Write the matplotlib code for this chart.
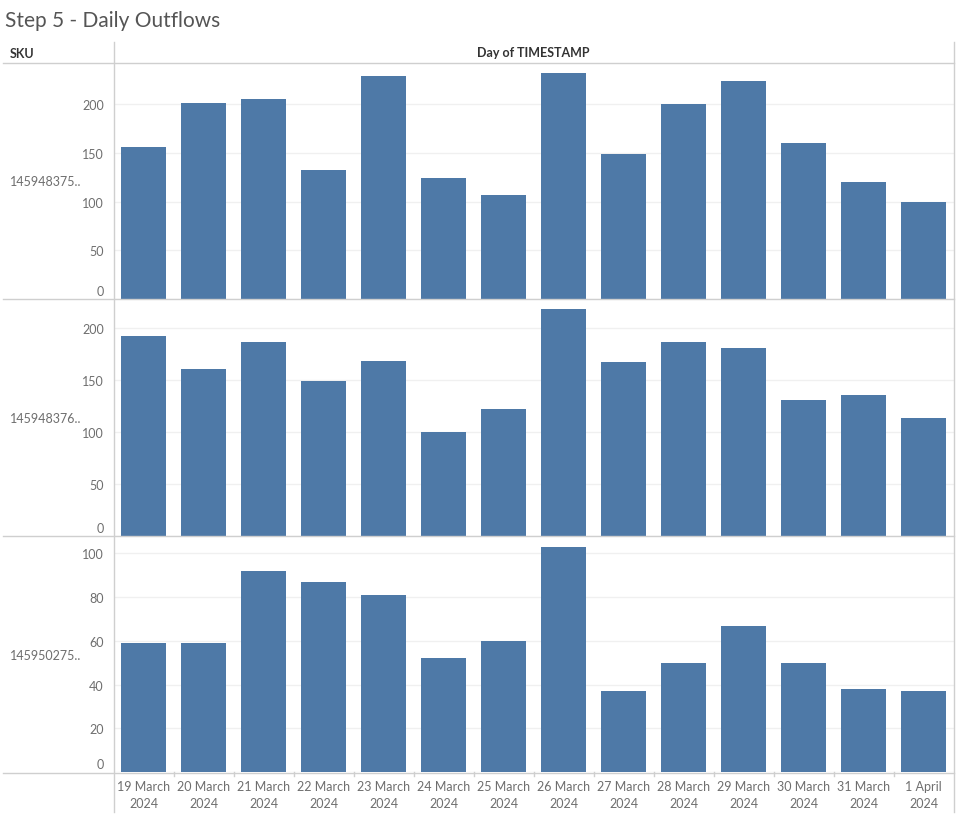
import matplotlib.pyplot as plt
from matplotlib.lines import Line2D
from matplotlib.transforms import ScaledTranslation

plt.rcParams['font.family'] = ['Lato', 'DejaVu Sans']

# data
days = ['19 March\n2024', '20 March\n2024', '21 March\n2024', '22 March\n2024',
        '23 March\n2024', '24 March\n2024', '25 March\n2024', '26 March\n2024',
        '27 March\n2024', '28 March\n2024', '29 March\n2024', '30 March\n2024',
        '31 March\n2024', '1 April\n2024']
sku_labels = ['145948375..', '145948376..', '145950275..']
sku1 = [156, 201, 205, 133, 229, 124, 107, 232, 149, 200, 224, 160, 120, 100]
sku2 = [192, 161, 187, 149, 168, 100, 122, 218, 167, 187, 181, 131, 136, 114]
sku3 = [59, 59, 92, 87, 81, 52, 60, 103, 37, 50, 67, 50, 38, 37]
series = [sku1, sku2, sku3]
y_max = [243.5, 228, 108]
y_ticks = [range(0, 201, 50), range(0, 201, 50), range(0, 101, 20)]

W, H = 961, 820
bar_col = '#4e79a7'
line_col = '#cfcfcf'
txt_col = '#6e6e6e'

fig = plt.figure(figsize=(W / 100, H / 100), dpi=100)

# panel edges in pixels (top, bottom)
rows = [(63, 300), (300, 537), (537, 773)]
x0, x1 = 113.5, 953.5

for i, (top, bot) in enumerate(rows):
    ax = fig.add_axes([x0 / W, 1 - bot / H, (x1 - x0) / W, (bot - top) / H])
    xs = range(len(days))
    ax.bar(xs, series[i], width=0.75, color=bar_col, zorder=3)
    ax.set_xlim(-0.5, len(days) - 0.5)
    ax.set_ylim(0, y_max[i])
    ax.set_yticks(list(y_ticks[i]))
    ax.grid(axis='y', color='#f0f0f0', linewidth=1, zorder=0)
    for s in ax.spines.values():
        s.set_visible(False)
    ax.tick_params(axis='y', length=0, pad=7, labelsize=9, labelcolor=txt_col)
    # bottom tick label sits above the baseline like in the original
    lbl0 = ax.get_yticklabels()[0]
    lbl0.set_transform(lbl0.get_transform() + ScaledTranslation(0, 0.09, fig.dpi_scale_trans))
    if i == 2:
        ax.set_xticks(list(xs))
        ax.set_xticklabels(days, fontsize=9, color=txt_col, linespacing=1.5)
        ax.tick_params(axis='x', length=0, pad=6)
    else:
        ax.set_xticks([])
    fig.text(10 / W, 1 - ((top + bot) / 2 + 1) / H, sku_labels[i], fontsize=9,
             color=txt_col, ha='left', va='center')

# frame lines
def hline(y, xa=3, xb=953.5):
    fig.add_artist(Line2D([xa / W, xb / W], [1 - y / H, 1 - y / H],
                          color=line_col, linewidth=1.0))

def vline(x, ya=43, yb=813):
    fig.add_artist(Line2D([x / W, x / W], [1 - ya / H, 1 - yb / H],
                          color=line_col, linewidth=1.0))

for y in [63.5, 300, 537, 773.5]:
    hline(y)
vline(113.5)
vline(953.5)

# small separators between x labels
for k in range(1, len(days)):
    xp = x0 + k * (x1 - x0) / len(days)
    vline(xp, 773, 777)

fig.text(5 / W, 1 - 21 / H, 'Step 5 - Daily Outflows', fontsize=15,
         color='#555555', ha='left', va='center')
fig.text(10 / W, 1 - 54 / H, 'SKU', fontsize=9, color='#333333',
         fontweight='bold', ha='left', va='center')
fig.text((x0 + x1) / 2 / W, 1 - 53 / H, 'Day of TIMESTAMP', fontsize=9,
         color='#333333', fontweight='bold', ha='center', va='center')

fig.savefig('out.png', dpi=100)
